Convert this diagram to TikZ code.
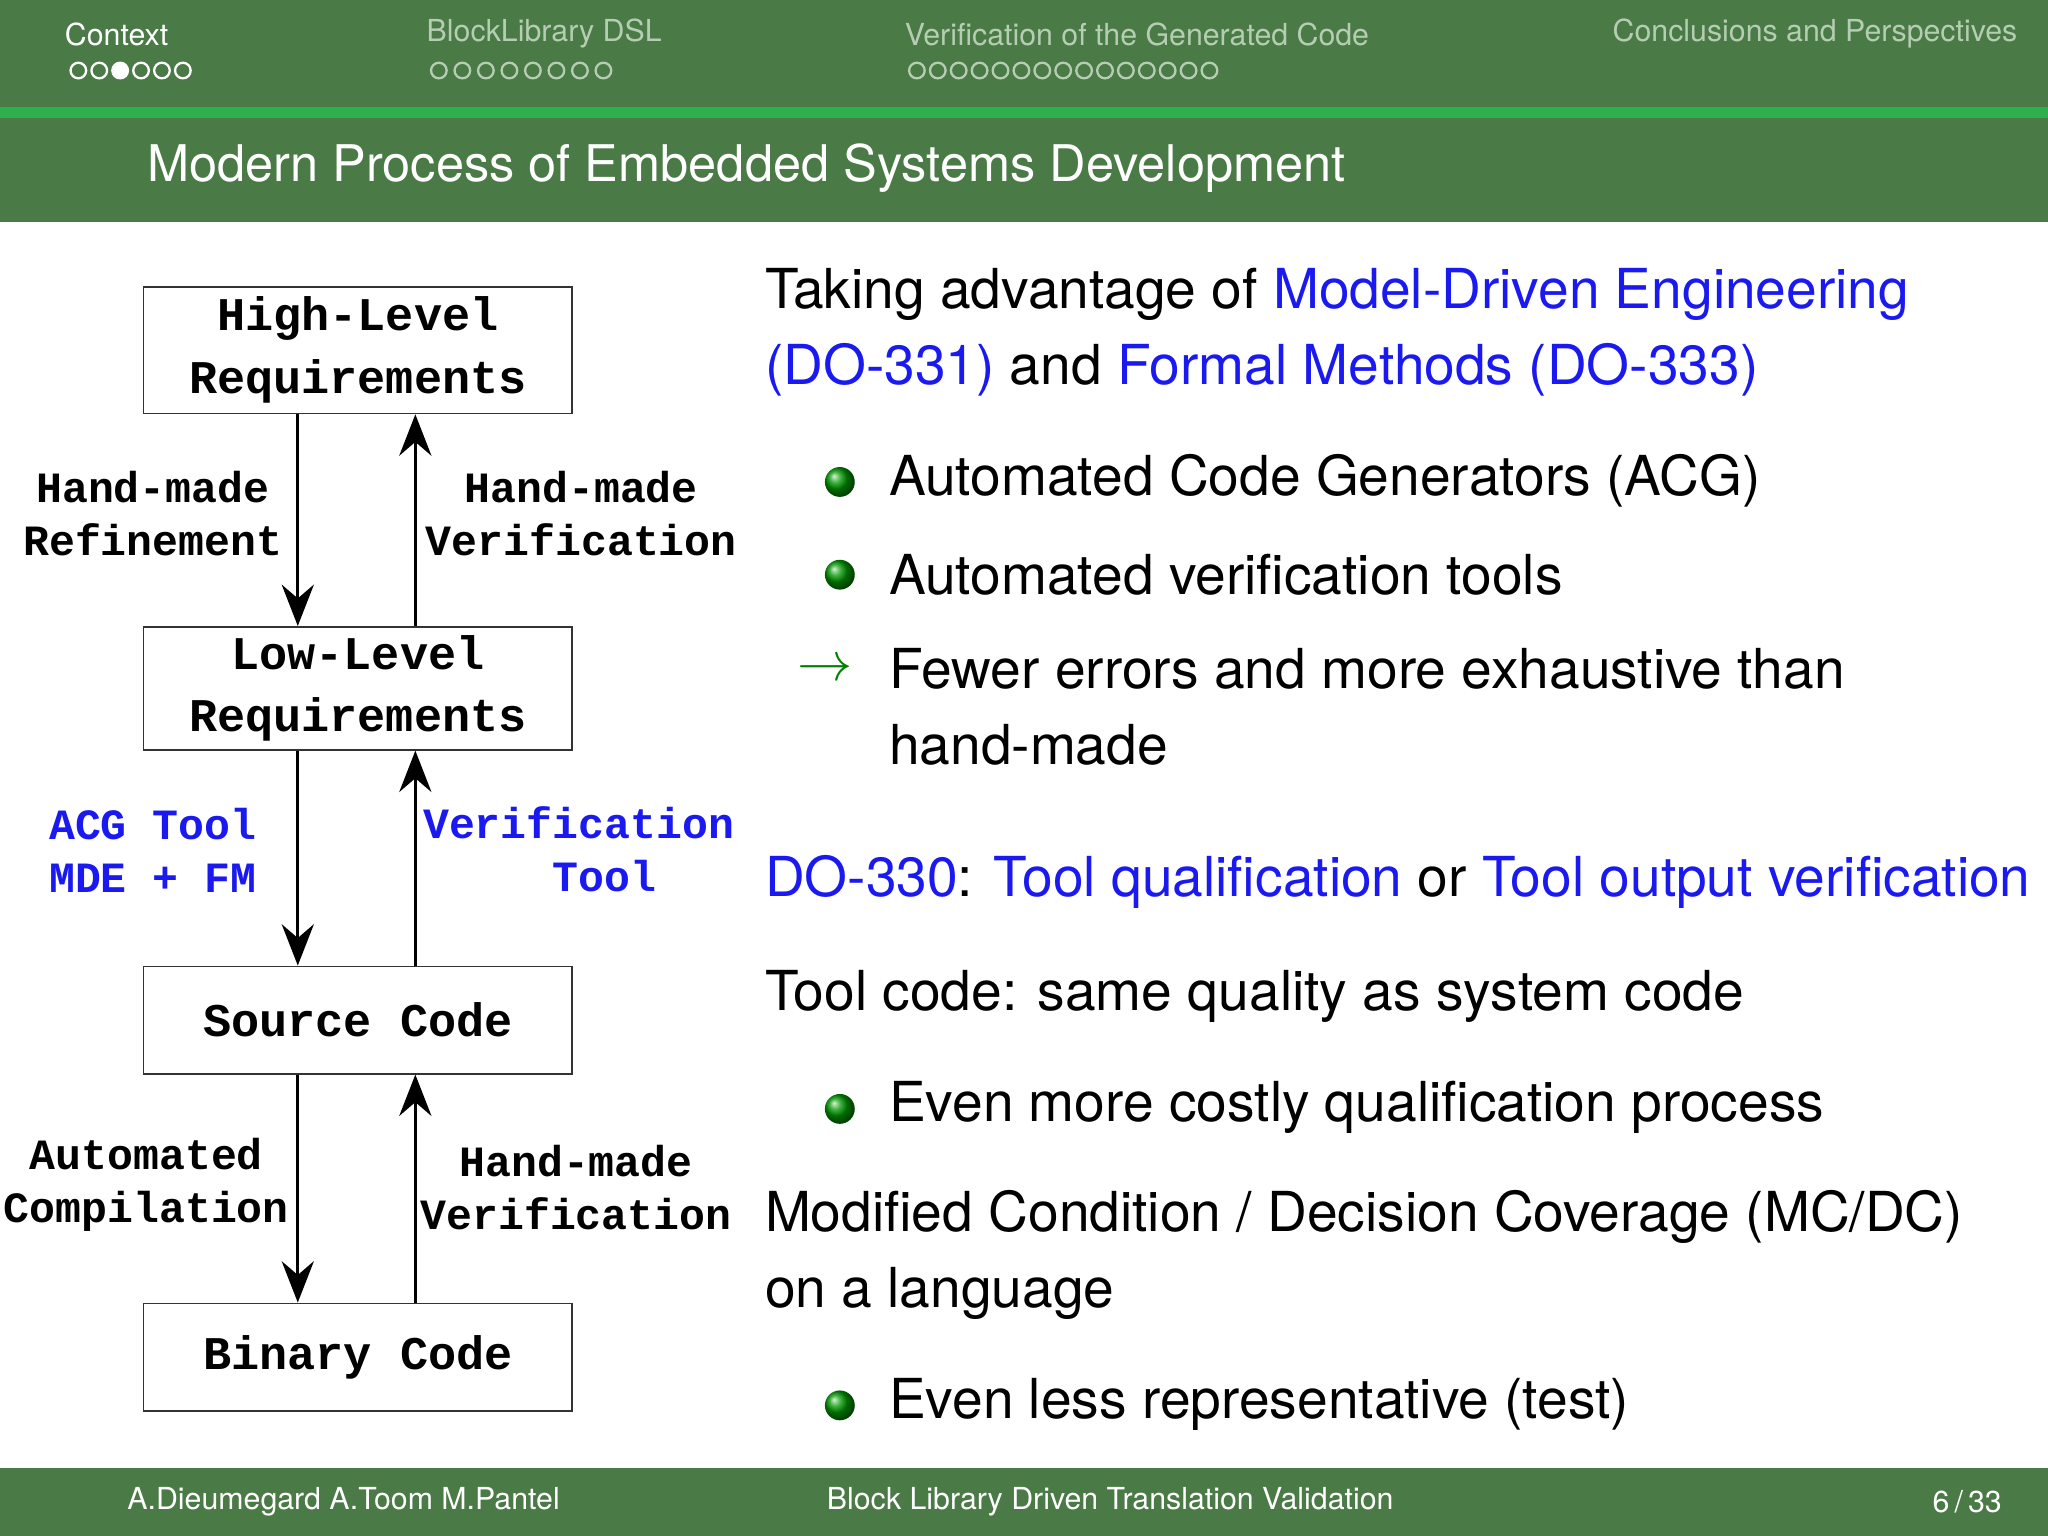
\documentclass[tikz,border=0pt]{standalone}
\usepackage{fontspec}
\setmainfont{TeX Gyre Heros}
\newfontfamily\monofont{Liberation Mono}
\usetikzlibrary{arrows.meta}
\usetikzlibrary{positioning}
\definecolor{headgreen}{HTML}{4A7A45}
\definecolor{linegreen}{HTML}{2EB04E}
\definecolor{fadegreen}{HTML}{B5CDB2}
\definecolor{slideblue}{HTML}{1A1AF0}
\begin{document}
\begin{tikzpicture}[x=0.01cm,y=-0.01cm,
    reqbox/.style={draw=black!80,line width=0.4pt,minimum width=3.28cm,minimum height=#1,
      inner sep=1pt,align=center,font=\monofont\bfseries\fontsize{10.2}{13.6}\selectfont},
    sidelbl/.style={align=center,font=\monofont\bfseries\fontsize{9.4}{11.5}\selectfont},
    flow/.style={line width=0.6pt,-{Stealth[length=9pt,width=7pt,inset=3pt]}},
    body/.style={anchor=west,font=\fontsize{12}{16}\selectfont,inner sep=0},
    ball/.style={circle,inner sep=0,minimum size=6.5pt,ball color=green!60!black},
    navdot/.style={circle,draw=#1,line width=0.5pt,inner sep=0,minimum size=3.4pt},
    navtxt/.style={anchor=west,font=\fontsize{6.6}{8}\selectfont,inner sep=0},
  ]
  \useasboundingbox (0,0) rectangle (1568,1176);
  % header and title bands
  \fill[headgreen] (0,0) rectangle (1568,82);
  \fill[linegreen] (0,82) rectangle (1568,90);
  \fill[headgreen] (0,90) rectangle (1568,170);
  \fill[headgreen] (0,1124) rectangle (1568,1176);

  \node[navtxt,text=white] (navctx) at (49,26) {Context};
  \node[navtxt,text=fadegreen] (navdsl) at (326,26) {BlockLibrary DSL};
  \node[navtxt,text=fadegreen] (navver) at (692,26) {Verification of the Generated Code};
  \node[navtxt,text=fadegreen] (navcon) at (1234,26) {Conclusions and Perspectives};
  \foreach \i in {0,...,5}{
    \node[navdot=white] (dctx\i) at (60+16*\i,54) {};}
  \fill[white] (dctx2) circle (1.7pt);
  \foreach \i in {0,...,7}{
    \node[navdot=fadegreen] (ddsl\i) at (336+18*\i,54) {};}
  \foreach \i in {0,...,14}{
    \node[navdot=fadegreen] (dver\i) at (702+16*\i,54) {};}

  \node[anchor=west,text=white,font=\fontsize{11}{13}\selectfont,inner sep=0] (title) at (112,129)
    {Modern Process of Embedded Systems Development};

  % diagram
  \node[reqbox=0.97cm] (hlr) at (274,268) {High-Level\\Requirements};
  \node[reqbox=0.94cm] (llr) at (274,527) {Low-Level\\Requirements};
  \node[reqbox=0.82cm] (src) at (274,781) {Source Code};
  \node[reqbox=0.82cm] (bin) at (274,1039) {Binary Code};
  \coordinate (down) at (228,0);
  \coordinate (up) at (318,0);

  \draw[flow] (hlr.south -| down) -- (llr.north -| down);
  \draw[flow] (llr.north -| up) -- (hlr.south -| up);
  \draw[flow] (llr.south -| down) -- (src.north -| down);
  \draw[flow] (src.north -| up) -- (llr.south -| up);
  \draw[flow] (src.south -| down) -- (bin.north -| down);
  \draw[flow] (bin.north -| up) -- (src.south -| up);

  \node[sidelbl] (refine) at (117,393) {Hand-made\\Refinement};
  \node[sidelbl] (verif1) at (445,393) {Hand-made\\Verification};
  \node[sidelbl,text=slideblue] (acg) at (117,651) {ACG Tool\\MDE + FM};
  \node[sidelbl,text=slideblue] (vtool) at (443,650) {Verification\\\hphantom{xx}Tool};
  \node[sidelbl] (compil) at (112,907) {Automated\\Compilation};
  \node[sidelbl] (verif2) at (441,909) {Hand-made\\Verification};

  % right column
  \node[body] (t1) at (585,225) {Taking advantage of \textcolor{slideblue}{Model-Driven Engineering}};
  \node[body] (t2) at (585,283) {\textcolor{slideblue}{(DO-331)} and \textcolor{slideblue}{Formal Methods (DO-333)}};
  \node[ball] (b1) at (643,369) {};
  \node[body] (t3) at (680,368) {Automated Code Generators (ACG)};
  \node[ball] (b2) at (643,440) {};
  \node[body] (t4) at (680,440) {Automated verification tools};
  \node[anchor=west,inner sep=0,text=green!50!black,font=\fontsize{12.5}{16}\selectfont] (ar) at (610,513) {$\rightarrow$};
  \node[body] (t5) at (680,512) {Fewer errors and more exhaustive than};
  \node[body] (t6) at (680,570) {hand-made};
  \node[body] (t7) at (585,675) {\textcolor{slideblue}{DO-330}: \textcolor{slideblue}{Tool qualification} or \textcolor{slideblue}{Tool output verification}};
  \node[body] (t8) at (585,763) {Tool code: same quality as system code};
  \node[ball] (b3) at (643,849) {};
  \node[body] (t9) at (680,848) {Even more costly qualification process};
  \node[body] (t10) at (585,932) {Modified Condition / Decision Coverage (MC/DC)};
  \node[body] (t11) at (585,990) {on a language};
  \node[ball] (b4) at (643,1076) {};
  \node[body] (t12) at (680,1075) {Even less representative (test)};

  % footer
  \node[text=white,font=\fontsize{6.6}{8}\selectfont] (fauth) at (263,1150) {A.Dieumegard A.Toom M.Pantel};
  \node[text=white,font=\fontsize{6.6}{8}\selectfont] (ftitle) at (850,1150) {Block Library Driven Translation Validation};
  \node[anchor=east,text=white,font=\fontsize{6.6}{8}\selectfont] (fpage) at (1545,1150) {6\,/\,33};
\end{tikzpicture}
\end{document}
